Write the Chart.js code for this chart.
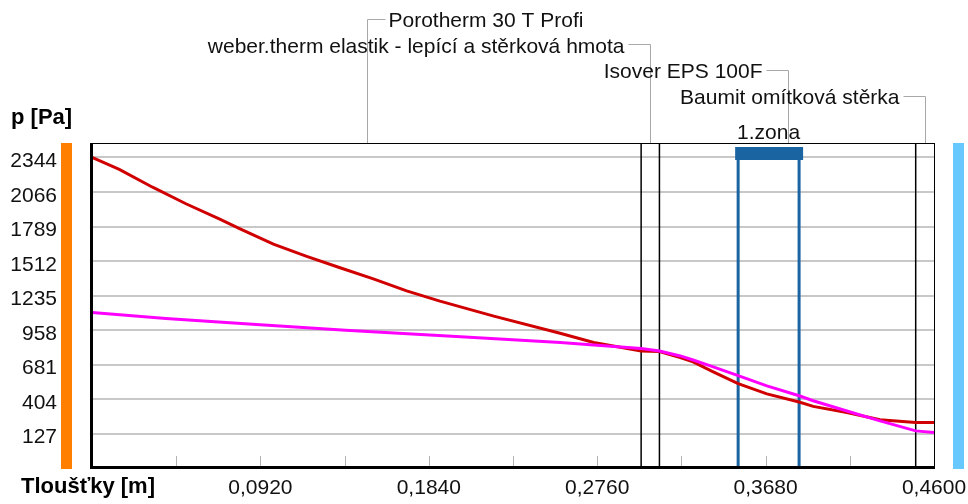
<!DOCTYPE html>
<html>
<head>
<meta charset="utf-8">
<script src="https://cdn.jsdelivr.net/npm/chart.js@4"></script>
<style>
  html, body { margin: 0; padding: 0; background: #fff; }
  #wrap { width: 968px; height: 504px; }
</style>
</head>
<body>
<div id="wrap"><canvas id="c" width="968" height="504"></canvas></div>
<script>
// ---- data ----
const layerNames = ['Porotherm 30 T Profi', 'weber.therm elastik - lepící a stěrková hmota', 'Isover EPS 100F', 'Baumit omítková stěrka'];
const layerBounds = [0, 0.300, 0.310, 0.450, 0.460];
const zoneLabel = '1.zona';
const zoneBounds = [0.353, 0.3863];

const yTickValues = [127, 404, 681, 958, 1235, 1512, 1789, 2066, 2344];
const xTickValues = [0, 0.046, 0.092, 0.138, 0.184, 0.230, 0.276, 0.322, 0.368, 0.414, 0.460];
const xTickLabels = ['', '', '0,0920', '', '0,1840', '', '0,2760', '', '0,3680', '', '0,4600'];

const yTitle = 'p [Pa]';
const xTitle = 'Tloušťky [m]';

// saturated vapour pressure (red)
const psatX = [0, 0.0149, 0.0331, 0.0513, 0.0695, 0.0809, 0.0991, 0.1173, 0.1355, 0.1537, 0.1719, 0.1901, 0.2195, 0.2557, 0.2741, 0.300, 0.310, 0.3214, 0.3284, 0.3394, 0.353, 0.3687, 0.3863, 0.394, 0.4124, 0.4305, 0.450, 0.460];
const psatY = [2344, 2248, 2105, 1972, 1850, 1770, 1648, 1550, 1458, 1369, 1272, 1190, 1070, 932, 858, 789, 785, 737, 702, 622, 527, 445, 380, 345, 295, 238, 215, 215];
// partial vapour pressure (magenta)
const pX = [0, 0.0404, 0.0877, 0.1386, 0.2014, 0.2559, 0.2741, 0.300, 0.310, 0.3214, 0.3284, 0.3394, 0.353, 0.3687, 0.3863, 0.394, 0.4124, 0.4305, 0.450, 0.460];
const pY = [1099, 1051, 1005, 957, 904, 858, 838, 810, 789, 750, 717, 662, 592, 510, 430, 390, 308, 228, 148, 135];

const FONT = '"Liberation Sans", Arial, sans-serif';

const toPts = (xs, ys) => xs.map((x, i) => ({ x: x, y: ys[i] }));
const noPad = s => { s.paddingTop = 0; s.paddingBottom = 0; s.paddingLeft = 0; s.paddingRight = 0; };

const decor = {
  id: 'decor',
  beforeDatasetsDraw(chart) {
    const { ctx, chartArea: a, scales: { x } } = chart;
    ctx.save();
    // small tick marks inside bottom
    ctx.strokeStyle = '#b4b4b4';
    ctx.lineWidth = 1;
    xTickValues.forEach((v, i) => {
      if (i === 0 || i === xTickValues.length - 1) return;
      const px = Math.round(x.getPixelForValue(v)) + 0.5;
      ctx.beginPath(); ctx.moveTo(px, a.bottom - 2); ctx.lineTo(px, a.bottom - 12); ctx.stroke();
    });
    // layer boundaries
    ctx.strokeStyle = '#000';
    ctx.lineWidth = 1.5;
    layerBounds.slice(1, -1).forEach(v => {
      const px = x.getPixelForValue(v);
      ctx.beginPath(); ctx.moveTo(px, a.top); ctx.lineTo(px, a.bottom); ctx.stroke();
    });
    // zone lines
    ctx.strokeStyle = '#1b64a2';
    ctx.lineWidth = 3;
    zoneBounds.forEach(v => {
      const px = x.getPixelForValue(v);
      ctx.beginPath(); ctx.moveTo(px, a.top + 10); ctx.lineTo(px, a.bottom); ctx.stroke();
    });
    ctx.restore();
  },
  afterDraw(chart) {
    const { ctx, chartArea: a, scales: { x } } = chart;
    ctx.save();
    // frame
    ctx.fillStyle = '#000';
    ctx.fillRect(a.left - 2, a.top, 3, a.bottom - a.top + 1);
    ctx.fillRect(a.left - 2, a.bottom - 2, a.right - a.left + 3, 3);
    ctx.fillRect(a.left - 2, a.top, a.right - a.left + 3, 1);
    ctx.fillRect(a.right, a.top, 1, a.bottom - a.top);
    // side bars
    ctx.fillStyle = '#ff8000';
    ctx.fillRect(61, a.top, 11, a.bottom - a.top + 1);
    ctx.fillStyle = '#66c8ff';
    ctx.fillRect(953, a.top, 11, a.bottom - a.top + 1);
    // zone bar
    const z0 = x.getPixelForValue(zoneBounds[0]);
    const z1 = x.getPixelForValue(zoneBounds[1]);
    ctx.fillStyle = '#1b64a2';
    ctx.fillRect(z0 - 3, a.top + 4, z1 - z0 + 7, 13);
    // texts
    ctx.fillStyle = '#111';
    ctx.font = '21px ' + FONT;
    ctx.textBaseline = 'alphabetic';
    ctx.textAlign = 'center';
    ctx.fillText(zoneLabel, (z0 + z1) / 2, 139);
    // layer leaders
    const leaderY = [19.5, 44.5, 70.5, 96.5];
    const textBase = [27, 53, 78, 104];
    ctx.strokeStyle = '#a8a8a8';
    ctx.lineWidth = 1;
    layerNames.forEach((name, i) => {
      const mid = Math.round(x.getPixelForValue((layerBounds[i] + layerBounds[i + 1]) / 2)) + 0.5;
      ctx.beginPath();
      ctx.moveTo(mid, a.top);
      ctx.lineTo(mid, leaderY[i]);
      if (i === 0) {
        ctx.lineTo(mid + 18, leaderY[i]);
      } else {
        ctx.lineTo(mid - 22, leaderY[i]);
      }
      ctx.stroke();
      if (i === 0) {
        ctx.textAlign = 'left';
        ctx.fillText(name, mid + 21, textBase[i]);
      } else {
        ctx.textAlign = 'right';
        ctx.fillText(name, mid - 26, textBase[i]);
      }
    });
    // axis titles
    ctx.fillStyle = '#000';
    ctx.font = 'bold 22px ' + FONT;
    ctx.textAlign = 'left';
    ctx.fillText(yTitle, 11, 124);
    ctx.fillText(xTitle, 21, 493);
    ctx.restore();
  }
};

new Chart(document.getElementById('c'), {
  type: 'scatter',
  data: {
    datasets: [
      {
        label: 'p',
        data: toPts(pX, pY),
        showLine: true,
        borderColor: '#ff00ff',
        borderWidth: 3,
        pointRadius: 0,
        tension: 0,
        order: 1
      },
      {
        label: 'psat',
        data: toPts(psatX, psatY),
        showLine: true,
        borderColor: '#d00000',
        borderWidth: 3,
        pointRadius: 0,
        tension: 0,
        order: 2
      }
    ]
  },
  options: {
    responsive: false,
    animation: false,
    devicePixelRatio: 1,
    layout: { padding: { left: 0, top: 143, right: 34, bottom: 0 } },
    plugins: { legend: { display: false }, tooltip: { enabled: false } },
    scales: {
      x: {
        type: 'linear',
        min: 0,
        max: 0.46,
        afterBuildTicks: s => { s.ticks = xTickValues.map(v => ({ value: v })); },
        afterFit: s => { s.height = 36; noPad(s); },
        ticks: {
          autoSkip: false,
          maxRotation: 0,
          padding: 8,
          color: '#111',
          font: { family: FONT, size: 21 },
          callback: (v, i) => xTickLabels[i]
        },
        grid: { display: false, drawTicks: false },
        border: { display: false }
      },
      y: {
        type: 'linear',
        min: -150,
        max: 2460,
        afterBuildTicks: s => { s.ticks = yTickValues.map(v => ({ value: v })); },
        afterFit: s => { s.width = 92; noPad(s); },
        ticks: {
          padding: 35,
          color: '#111',
          font: { family: FONT, size: 21, lineHeight: '8px' },
          callback: v => ['', String(v)]
        },
        grid: { color: '#c8c8c8', lineWidth: 2, drawTicks: false },
        border: { display: false }
      }
    }
  },
  plugins: [decor]
});
</script>
</body>
</html>
